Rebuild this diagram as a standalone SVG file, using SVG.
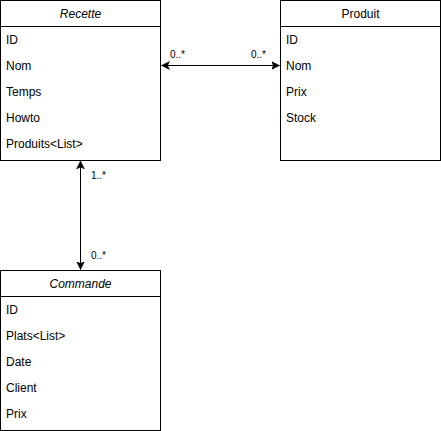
<svg xmlns="http://www.w3.org/2000/svg" width="441" height="431" viewBox="0 0 441 431">
<style>
.box{fill:#fff;stroke:#000;stroke-width:1}
.t{font-family:"Liberation Sans",Arial,sans-serif;font-size:12px;fill:#000}
.title{text-anchor:middle}
.it{font-style:italic}
.lbl{font-family:"Liberation Sans",Arial,sans-serif;font-size:10px;fill:#000}
.edge{fill:none;stroke:#000;stroke-width:1}
</style>
<defs>
<marker id="arr" markerUnits="userSpaceOnUse" markerWidth="10" markerHeight="10" refX="8" refY="4" orient="auto-start-reverse" viewBox="0 0 10 8">
<path d="M0,0 L8,4 L0,8 L2,4 Z" fill="#000" stroke="#000" stroke-width="0.5"/>
</marker>
</defs>
<rect width="441" height="431" fill="#fff"/>
<g id="connectors">
<path class="edge" d="M161.5,65.5 L279.5,65.5" marker-start="url(#arr)" marker-end="url(#arr)"/>
<path class="edge" d="M80.5,161 L80.5,269.5" marker-start="url(#arr)" marker-end="url(#arr)"/>
<text class="lbl" x="170" y="58">0..*</text>
<text class="lbl" x="251" y="58">0..*</text>
<text class="lbl" x="91" y="179">1..*</text>
<text class="lbl" x="91" y="259">0..*</text>
</g>
<g id="recette">
<rect class="box" x="0.5" y="0.5" width="160" height="160"/>
<line class="box" x1="0.5" y1="26.5" x2="160.5" y2="26.5"/>
<text class="t title it" x="80.5" y="18">Recette</text>
<text class="t" x="6" y="44">ID</text>
<text class="t" x="6" y="70">Nom</text>
<text class="t" x="6" y="96">Temps</text>
<text class="t" x="6" y="122">Howto</text>
<text class="t" x="6" y="148">Produits&lt;List&gt;</text>
</g>
<g id="produit">
<rect class="box" x="280.5" y="0.5" width="160" height="160"/>
<line class="box" x1="280.5" y1="26.5" x2="440.5" y2="26.5"/>
<text class="t title" x="360.5" y="18">Produit</text>
<text class="t" x="286" y="44">ID</text>
<text class="t" x="286" y="70">Nom</text>
<text class="t" x="286" y="96">Prix</text>
<text class="t" x="286" y="122">Stock</text>
</g>
<g id="commande">
<rect class="box" x="0.5" y="270.5" width="160" height="160"/>
<line class="box" x1="0.5" y1="296.5" x2="160.5" y2="296.5"/>
<text class="t title it" x="80.5" y="288">Commande</text>
<text class="t" x="6" y="314">ID</text>
<text class="t" x="6" y="340">Plats&lt;List&gt;</text>
<text class="t" x="6" y="366">Date</text>
<text class="t" x="6" y="392">Client</text>
<text class="t" x="6" y="418">Prix</text>
</g>
</svg>
